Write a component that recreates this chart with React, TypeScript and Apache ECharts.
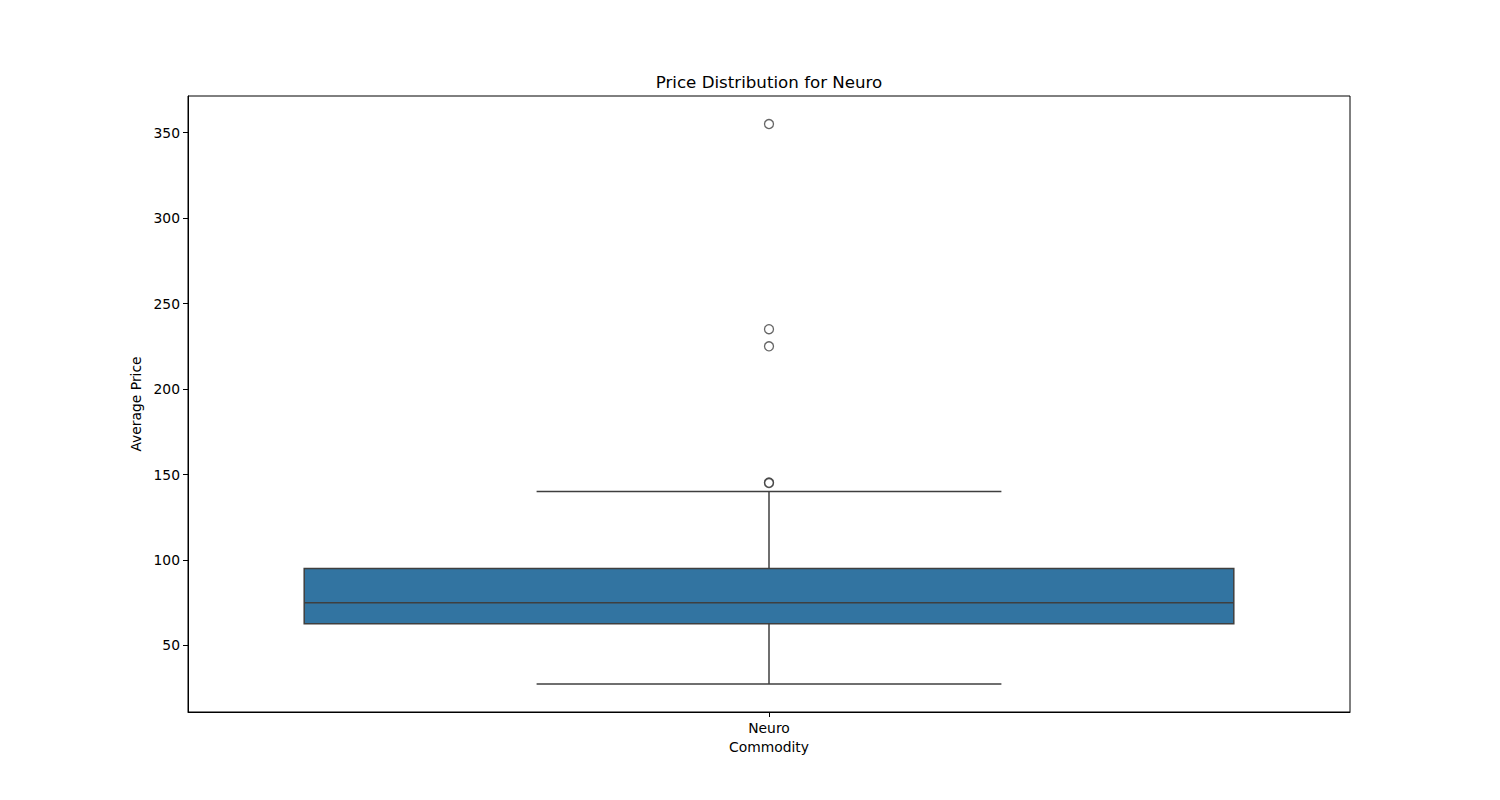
import React, { useEffect, useRef } from "react";
import * as echarts from "echarts";

const categories = ["Neuro"];
// [whiskerLow, Q1, median, Q3, whiskerHigh]
const boxStats = [[27.5, 62.7, 75, 95, 140]];
const outliers = [145, 145.3, 225, 235, 355];
const yTicks = [50, 100, 150, 200, 250, 300, 350];

const FONT = "DejaVu Sans";
const LINE = "#3f3f3f";
const TICK_FS = 13.89;

export default function App() {
  const ref = useRef<HTMLDivElement>(null);
  useEffect(() => {
    if (!ref.current) return;
    const chart = echarts.init(ref.current, null, { renderer: "svg" });
    chart.setOption({
      animation: false,
      backgroundColor: "#ffffff",
      graphic: [
        {
          type: "text",
          x: 769,
          y: 82,
          style: {
            text: "Price Distribution for Neuro",
            fontFamily: FONT,
            fontSize: 16.67,
            fill: "#000",
            align: "center",
            verticalAlign: "middle",
          },
        },
      ],
      grid: {
        left: 188,
        right: 150,
        top: 96,
        bottom: 88,
        show: true,
        borderColor: "#000",
        borderWidth: 1,
        backgroundColor: "transparent",
      },
      xAxis: {
        type: "category",
        data: categories,
        name: "Commodity",
        nameLocation: "middle",
        nameGap: 28,
        nameTextStyle: { fontFamily: FONT, fontSize: TICK_FS, color: "#000" },
        axisLine: { show: true, lineStyle: { color: "#000", width: 1 } },
        axisTick: { show: true, alignWithLabel: true, length: 5, lineStyle: { color: "#000" } },
        axisLabel: { fontFamily: FONT, fontSize: TICK_FS, color: "#000", margin: 9 },
        splitLine: { show: false },
      },
      yAxis: {
        type: "value",
        min: 11.1,
        max: 371.4,
        name: "Average Price",
        nameLocation: "middle",
        nameGap: 43,
        nameTextStyle: { fontFamily: FONT, fontSize: TICK_FS, color: "#000" },
        axisLine: { show: true, lineStyle: { color: "#000", width: 1 } },
        axisTick: { show: true, length: 5, customValues: yTicks, lineStyle: { color: "#000" } },
        axisLabel: { fontFamily: FONT, fontSize: TICK_FS, color: "#000", margin: 8, customValues: yTicks },
        splitLine: { show: false },
      },
      series: [
        {
          type: "custom",
          data: boxStats.map((s, i) => [i, ...s]),
          encode: { x: 0, y: [1, 2, 3, 4, 5] },
          renderItem: (params: any, api: any) => {
            const x = api.value(0);
            const band = api.size([1, 0])[0];
            const half = band * 0.4;
            const capHalf = band * 0.2;
            const pLow = api.coord([x, api.value(1)]);
            const pQ1 = api.coord([x, api.value(2)]);
            const pMed = api.coord([x, api.value(3)]);
            const pQ3 = api.coord([x, api.value(4)]);
            const pHigh = api.coord([x, api.value(5)]);
            const cx = pMed[0];
            const lw = 1.5;
            const ls = { stroke: LINE, lineWidth: lw };
            return {
              type: "group",
              children: [
                { type: "line", shape: { x1: cx, y1: pQ3[1], x2: cx, y2: pHigh[1] }, style: ls },
                { type: "line", shape: { x1: cx, y1: pQ1[1], x2: cx, y2: pLow[1] }, style: ls },
                { type: "line", shape: { x1: cx - capHalf, y1: pHigh[1], x2: cx + capHalf, y2: pHigh[1] }, style: ls },
                { type: "line", shape: { x1: cx - capHalf, y1: pLow[1], x2: cx + capHalf, y2: pLow[1] }, style: ls },
                {
                  type: "rect",
                  shape: { x: cx - half, y: pQ3[1], width: half * 2, height: pQ1[1] - pQ3[1] },
                  style: { fill: "#3274a1", stroke: LINE, lineWidth: lw },
                },
                { type: "line", shape: { x1: cx - half, y1: pMed[1], x2: cx + half, y2: pMed[1] }, style: ls },
              ],
            };
          },
        },
        {
          type: "scatter",
          data: outliers.map((v) => [0, v]),
          symbol: "circle",
          symbolSize: 9,
          itemStyle: { color: "rgba(0,0,0,0)", borderColor: LINE, borderWidth: 1.3 },
          z: 5,
        },
      ],
    });
    return () => chart.dispose();
  }, []);
  return (
    <div
      ref={ref}
      style={{ position: "absolute", left: 0, top: 0, width: 1500, height: 800 }}
    />
  );
}
